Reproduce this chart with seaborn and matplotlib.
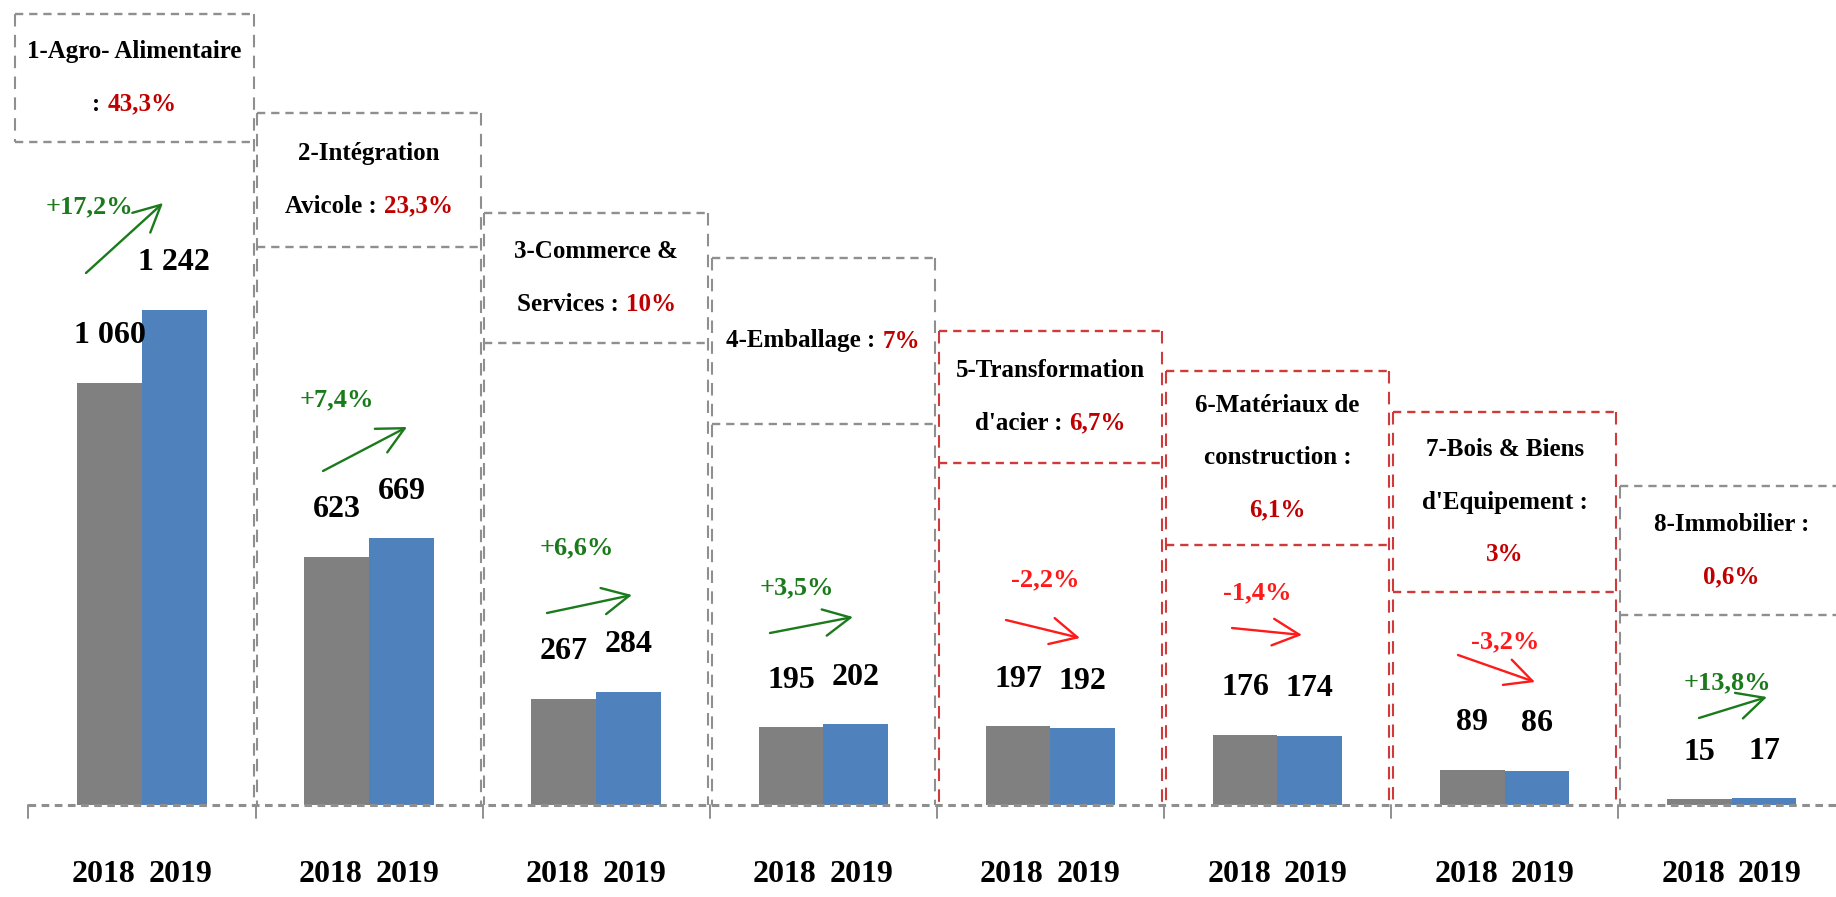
import numpy as np
import pandas as pd
import matplotlib
matplotlib.use("Agg")
import matplotlib.pyplot as plt
import seaborn as sns
from matplotlib.offsetbox import TextArea, HPacker, VPacker, AnnotationBbox

# ---------------- data ----------------
sectors = ["1-Agro- Alimentaire", "2-Intégration Avicole", "3-Commerce & Services",
           "4-Emballage", "5-Transformation d'acier", "6-Matériaux de construction",
           "7-Bois & Biens d'Equipement", "8-Immobilier"]
shares = ["43,3%", "23,3%", "10%", "7%", "6,7%", "6,1%", "3%", "0,6%"]
years = ["2018", "2019"]
v2018 = [1060, 623, 267, 195, 197, 176, 89, 15]
v2019 = [1242, 669, 284, 202, 192, 174, 86, 17]
changes = ["+17,2%", "+7,4%", "+6,6%", "+3,5%", "-2,2%", "-1,4%", "-3,2%", "+13,8%"]

# header line layout ({s} = share)
header_lines = [
    ["1-Agro- Alimentaire", ": {s}"],
    ["2-Intégration", "Avicole : {s}"],
    ["3-Commerce &", "Services : {s}"],
    ["4-Emballage : {s}"],
    ["5-Transformation", "d'acier : {s}"],
    ["6-Matériaux de", "construction :", "{s}"],
    ["7-Bois & Biens", "d'Equipement :", "{s}"],
    ["8-Immobilier :", "{s}"],
]

# ---------------- layout (pixels) ----------------
FIG_W, FIG_H = 1836, 897
BASE = 805                 # baseline, px from top
K = 495 / 1242             # px per unit
X0, DX = 142, 227.1        # first group centre, group spacing (px)
head_top = [14, 113, 213, 258, 331, 371, 412, 486]
head_bot = [142, 247, 343, 424, 463, 545, 592, 615]
arrow_px = [((86, 273), (163, 203)), ((323, 471), (407, 427)), ((547, 613), (632, 595)),
            ((770, 633), (853, 617)), ((1006, 620), (1080, 638)), ((1232, 628), (1302, 635)),
            ((1458, 655), (1535, 682)), ((1699, 718), (1767, 697))]
chg_txt_px = [(90, 207), (337, 400), (577, 548), (797, 588), (1045, 580), (1257, 593),
              (1505, 642), (1727, 683)]

GRAY_BAR, BLUE_BAR = "#808080", "#4F81BD"
GRID_GRAY, GRID_RED = "#8f8f8f", "#cf3a3a"
SHARE_RED = "#C00000"
UP_GREEN, DOWN_RED = "#1b7a1b", "#ff1a1a"
FONT = ["Liberation Serif", "DejaVu Serif"]
HEAD_FS = 18

sns.set_theme(style="white")
plt.rcParams["font.family"] = FONT
plt.rcParams["font.weight"] = "bold"

fig = plt.figure(figsize=(FIG_W / 100, FIG_H / 100), dpi=100)
ax = fig.add_axes([0, 0, 1, 1])

df = pd.DataFrame({
    "Secteur": sectors * 2,
    "Année": [years[0]] * len(sectors) + [years[1]] * len(sectors),
    "Valeur": v2018 + v2019,
})
sns.barplot(data=df, x="Secteur", y="Valeur", hue="Année", palette=[GRAY_BAR, BLUE_BAR],
            width=0.57, saturation=1, linewidth=0, legend=False, errorbar=None,
            ax=ax, zorder=2)

ax.set_xlim(-X0 / DX, (FIG_W - X0) / DX)
ax.set_ylim(-(FIG_H - BASE) / K, BASE / K)
ax.axis("off")


def yd(py):
    return (BASE - py) / K


def xd(px):
    return (px - X0) / DX


# value labels and year labels
for ci, cont in enumerate(ax.containers):
    vals = v2018 if ci == 0 else v2019
    shift = -6 if ci == 0 else 6
    for bar, v in zip(cont, vals):
        cx = bar.get_x() + bar.get_width() / 2
        ax.annotate(f"{v:,}".replace(",", " "), (cx, bar.get_height()),
                    xytext=(0, 47), textcoords="offset pixels", ha="center", va="center",
                    fontsize=23, fontweight="bold", color="black", zorder=5)
        ax.annotate(years[ci], (cx, yd(874)), xytext=(shift, 0), textcoords="offset pixels",
                    ha="center", va="center", fontsize=23, fontweight="bold", color="black")

# cells / header boxes
n = len(sectors)
for i in range(n):
    neg = changes[i].startswith("-")
    col = GRID_RED if neg else GRID_GRAY
    left = xd(15) if i == 0 else i - 0.5 + 0.008
    right = n if i == n - 1 else i + 0.5 - 0.008
    top, hb = yd(head_top[i]), yd(head_bot[i])
    kw_h = dict(color=col, lw=1.7, ls=(0, (3.5, 2.5)), zorder=3)
    kw_v = dict(color=col, lw=1.5, ls=(0, (6, 4)), zorder=3)
    ax.plot([left, right], [top, top], **kw_h)
    ax.plot([left, right], [hb, hb], **kw_h)
    ax.plot([left, left], [top, hb if i == 0 else 0], **kw_v)
    if i != n - 1:
        ax.plot([right, right], [top, 0], **kw_v)

    rows = []
    for line in header_lines[i]:
        parts = []
        if "{s}" in line:
            pre = line.replace("{s}", "").rstrip()
            if pre:
                parts.append(TextArea(pre, textprops=dict(color="black", fontsize=HEAD_FS,
                                                          fontweight="bold", family=FONT)))
            parts.append(TextArea(shares[i], textprops=dict(color=SHARE_RED, fontsize=HEAD_FS,
                                                            fontweight="bold", family=FONT)))
        else:
            parts.append(TextArea(line, textprops=dict(color="black", fontsize=HEAD_FS,
                                                       fontweight="bold", family=FONT)))
        rows.append(HPacker(children=parts, align="baseline", pad=0, sep=5))
    box = VPacker(children=rows, align="center", pad=0, sep=21)
    cx = (left + right) / 2 if i == 0 else i
    ab = AnnotationBbox(box, (cx, (top + hb) / 2), xycoords="data", frameon=False,
                        box_alignment=(0.5, 0.5), zorder=4)
    ax.add_artist(ab)

# baseline and category ticks
ax.plot([-0.5, n + 0.5], [0, 0], color=GRID_GRAY, lw=2.2, ls=(0, (2.5, 1.8)), zorder=3)
for b in np.arange(-0.5, n, 1.0):
    ax.plot([b, b], [0, yd(818)], color=GRID_GRAY, lw=1.4, zorder=3)

# change arrows and labels
for i in range(n):
    col = DOWN_RED if changes[i].startswith("-") else UP_GREEN
    (sx, sy), (ex, ey) = arrow_px[i]
    ax.annotate("", xy=(xd(ex), yd(ey)), xytext=(xd(sx), yd(sy)),
                arrowprops=dict(arrowstyle="->,head_length=0.8,head_width=0.4",
                                color=col, lw=1.7, mutation_scale=24,
                                shrinkA=0, shrinkB=0), zorder=4)
    tx, ty = chg_txt_px[i]
    ax.text(xd(tx), yd(ty), changes[i], color=col, fontsize=19, fontweight="bold",
            ha="center", va="center", zorder=5)

fig.savefig("out.png", dpi=100)
